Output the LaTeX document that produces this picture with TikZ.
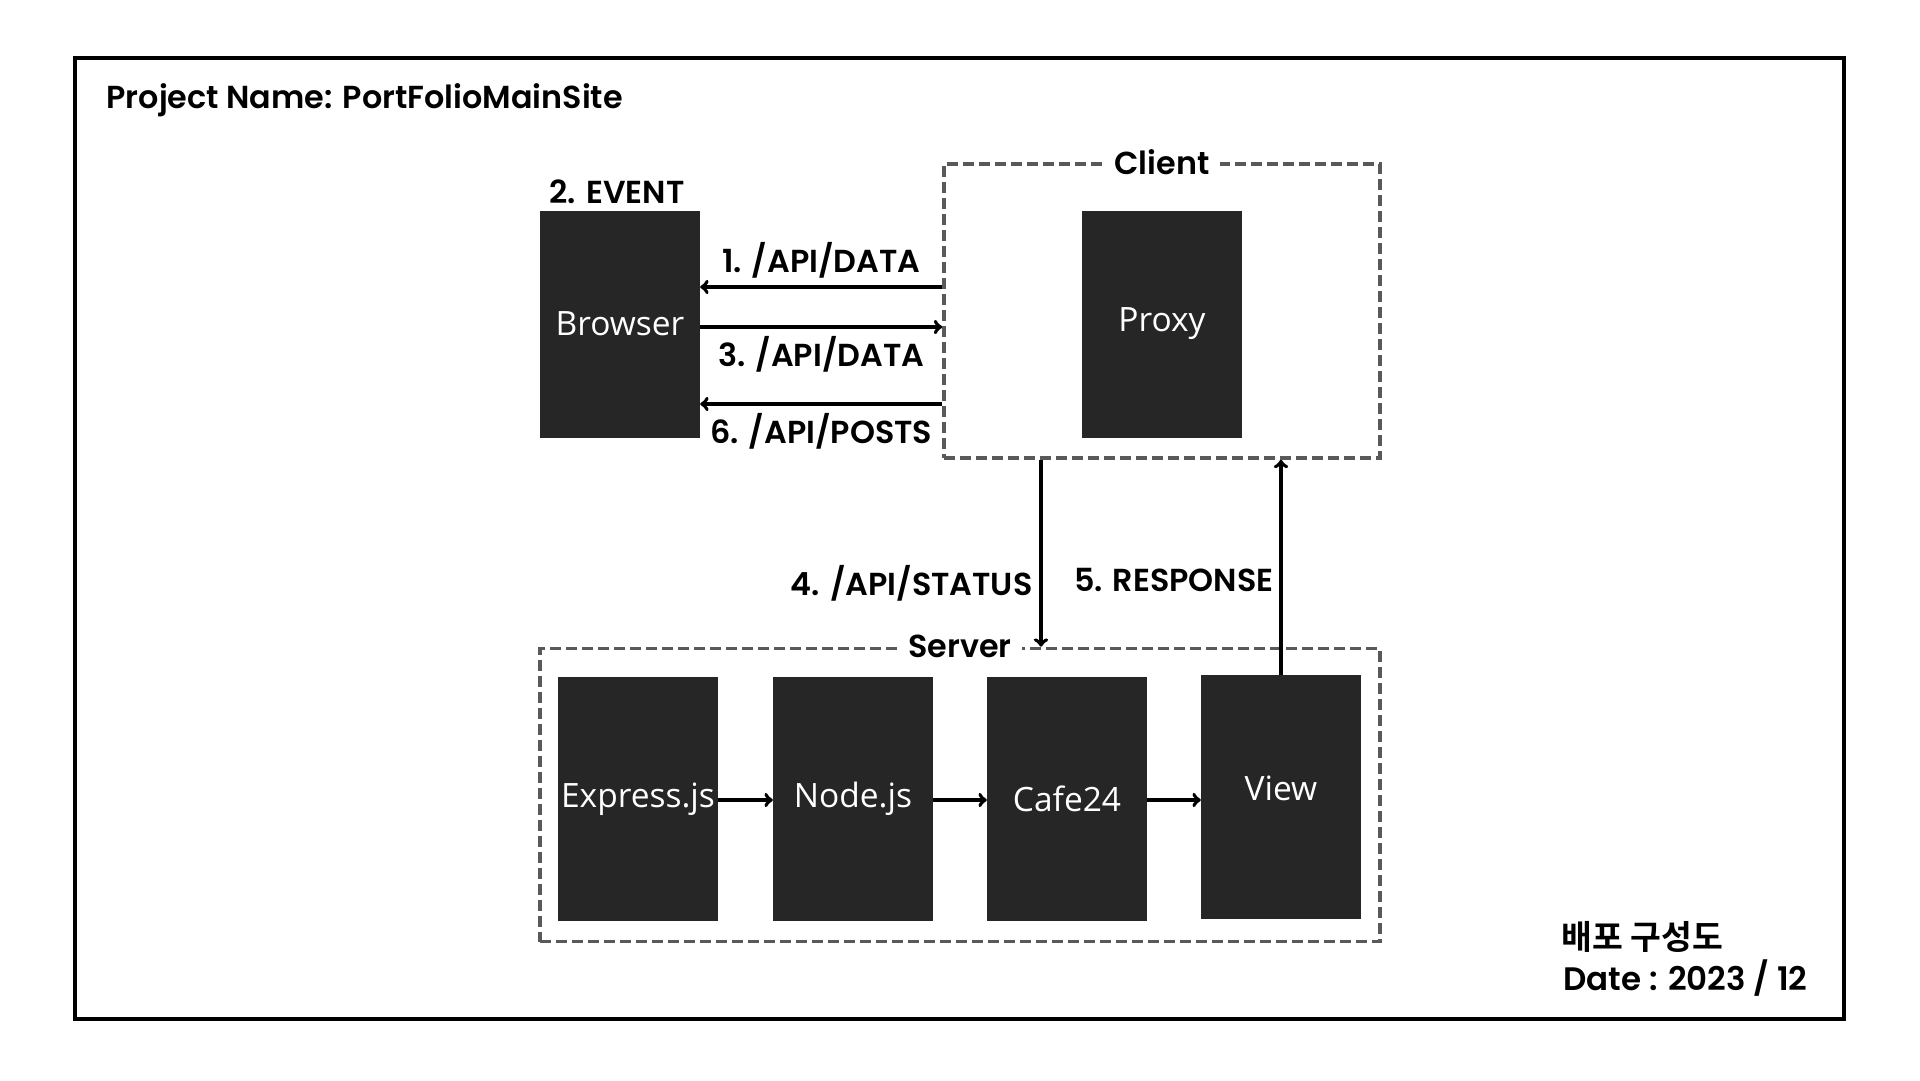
\documentclass[tikz,border=0pt]{standalone}
\usepackage{fontspec}
\usepackage{tikz}
\setmainfont{Poppins}[UprightFont=* SemiBold]
\newfontfamily\boxfont{Open Sans}
\newfontfamily\korfont{Noto Sans CJK KR}[UprightFont=* Bold]
\definecolor{boxdark}{HTML}{262626}
\definecolor{dashgray}{HTML}{595959}

\begin{document}
\begin{tikzpicture}[x=1pt, y=-1pt,
    block/.style={fill=boxdark, text=white, minimum width=160pt, font=\boxfont\fontsize{33.5}{40}\selectfont},
    group/.style={draw=dashgray, line width=3.6pt, dash pattern=on 11pt off 5pt},
    lbl/.style={font=\fontsize{31.8}{38}\selectfont},
    arr/.style={line width=3.8pt, ->}]

\useasboundingbox (0,0) rectangle (1920,1080);
\draw[line width=3.5pt] (75,58) rectangle (1844,1019);

\node[lbl, anchor=west] (title) at (103,100) {Project Name: PortFolioMainSite};

% Client
\node[group, minimum width=436pt, minimum height=294pt] (client) at (1162,311) {};
\node[lbl, fill=white, inner xsep=10pt] (clientlbl) at (client.north) {Client};
\node[block, minimum height=227pt] (proxy) at (1162,324) {Proxy};

% Browser
\node[block, minimum height=227pt] (browser) at (620,324) {Browser};
\node[lbl] (event) at (617,192) {2. EVENT};

\draw[arr] (client.west |- 0,287) -- (browser.east |- 0,287)
    node[lbl, midway, above=4pt] (l1) {1. /API/DATA};
\draw[arr] (browser.east |- 0,327) -- (client.west |- 0,327)
    node[lbl, midway, below=4pt] (l3) {3. /API/DATA};
\draw[arr] (client.west |- 0,404) -- (browser.east |- 0,404)
    node[lbl, midway, below=4pt] (l6) {6. /API/POSTS};

% Server
\node[group, minimum width=840pt, minimum height=293pt] (server) at (960,795) {};
\node[lbl, fill=white, inner xsep=10pt] (serverlbl) at (server.north) {Server};
\node[block, minimum height=244pt] (express) at (638,799) {Express.js};
\node[block, minimum height=244pt] (nodejs) at (853,799) {Node.js};
\node[block, minimum height=244pt] (cafe) at (1067,799) {Cafe24};
\node[block, minimum height=244pt, text depth=18pt] (view) at (1281,797) {View};

\draw[arr] (express.east |- 0,800) -- (nodejs.west |- 0,800);
\draw[arr] (nodejs.east |- 0,800) -- (cafe.west |- 0,800);
\draw[arr] (cafe.east |- 0,800) -- (view.west |- 0,800);

\draw[arr] (client.south -| 1041,0) -- (server.north -| 1041,0);
\node[lbl, anchor=east] (l4) at (1036,583) {4. /API/STATUS};
\draw[arr] (view.north) -- (view.north |- client.south);
\node[lbl, anchor=east] (l5) at (1277,580) {5. RESPONSE};

% footer
\node[anchor=west, font=\korfont\fontsize{33.5}{40}\selectfont] (kor) at (1558,937) {배포 구성도};
\node[lbl, font=\fontsize{32.5}{39}\selectfont, anchor=west] (date) at (1560,978) {Date : 2023 / 12};

\end{tikzpicture}
\end{document}
